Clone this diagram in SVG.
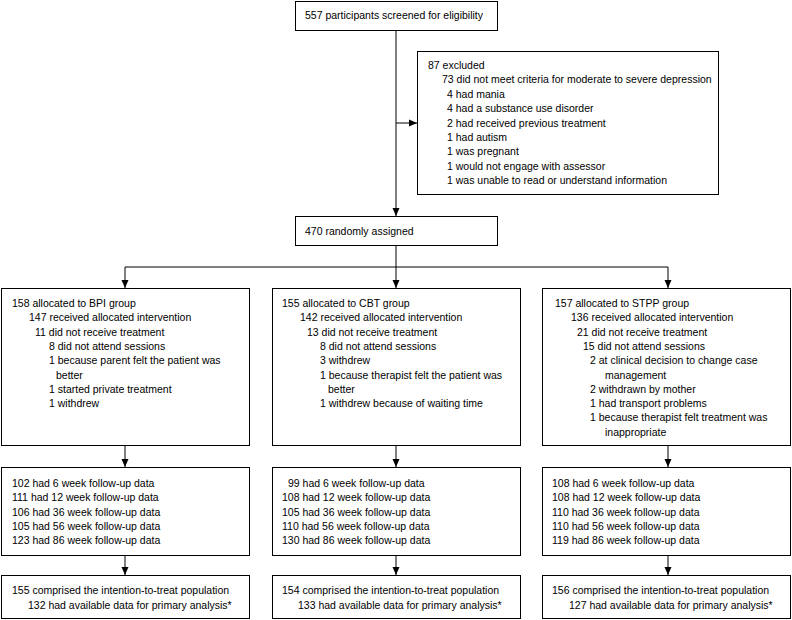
<svg xmlns="http://www.w3.org/2000/svg" width="792" height="620" viewBox="0 0 792 620">
<style>
  rect.box { fill: #fff; stroke: #000; stroke-width: 1; }
  text { font-family: "Liberation Sans", Arial, sans-serif; font-size: 10.5px; fill: #000; }
  .conn line, .conn path { stroke: #000; stroke-width: 1; fill: none; }
</style>
<defs>
  <marker id="arr" markerUnits="userSpaceOnUse" markerWidth="8" markerHeight="8" refX="8" refY="4" orient="auto">
    <path d="M0,0.5 L8,4 L0,7.5 Z" fill="#000"/>
  </marker>
</defs>
<rect width="792" height="620" fill="#fff"/>

<g class="conn" id="connectors">
  <line x1="396" y1="31" x2="396" y2="216" marker-end="url(#arr)"/>
  <line x1="396" y1="123" x2="417" y2="123" marker-end="url(#arr)"/>
  <line x1="396" y1="246" x2="396" y2="267"/>
  <line x1="125" y1="267" x2="668" y2="267"/>
  <line x1="125" y1="267" x2="125" y2="288" marker-end="url(#arr)"/>
  <line x1="396" y1="267" x2="396" y2="288" marker-end="url(#arr)"/>
  <line x1="668" y1="267" x2="668" y2="288" marker-end="url(#arr)"/>
  <line x1="125" y1="446" x2="125" y2="467" marker-end="url(#arr)"/>
  <line x1="396" y1="446" x2="396" y2="467" marker-end="url(#arr)"/>
  <line x1="668" y1="446" x2="668" y2="467" marker-end="url(#arr)"/>
  <line x1="125" y1="556" x2="125" y2="575" marker-end="url(#arr)"/>
  <line x1="396" y1="556" x2="396" y2="575" marker-end="url(#arr)"/>
  <line x1="668" y1="556" x2="668" y2="575" marker-end="url(#arr)"/>
</g>

<g id="screened">
  <rect class="box" x="295.5" y="1.5" width="202" height="29"/>
  <text x="305" y="19">557 participants screened for eligibility</text>
</g>

<g id="excluded">
  <rect class="box" x="417.5" y="51.5" width="301" height="143"/>
  <text x="428" y="69">87 excluded</text>
  <text x="442" y="83.4">73 did not meet criteria for moderate to severe depression</text>
  <text x="447" y="97.8">4 had mania</text>
  <text x="447" y="112.2">4 had a substance use disorder</text>
  <text x="447" y="126.6">2 had received previous treatment</text>
  <text x="447" y="141">1 had autism</text>
  <text x="447" y="155.4">1 was pregnant</text>
  <text x="447" y="169.8">1 would not engage with assessor</text>
  <text x="447" y="184.2">1 was unable to read or understand information</text>
</g>

<g id="randomised">
  <rect class="box" x="295.5" y="216.5" width="202" height="29"/>
  <text x="305" y="235">470 randomly assigned</text>
</g>

<g id="bpi-alloc">
  <rect class="box" x="1.5" y="288.5" width="248" height="157"/>
  <text x="12" y="307">158 allocated to BPI group</text>
  <text x="29" y="321.3">147 received allocated intervention</text>
  <text x="35" y="335.6">11 did not receive treatment</text>
  <text x="49" y="349.9">8 did not attend sessions</text>
  <text x="49" y="364.2">1 because parent felt the patient was</text>
  <text x="56" y="378.5">better</text>
  <text x="49" y="392.8">1 started private treatment</text>
  <text x="49" y="407.1">1 withdrew</text>
</g>

<g id="cbt-alloc">
  <rect class="box" x="272.5" y="288.5" width="248" height="157"/>
  <text x="282" y="307">155 allocated to CBT group</text>
  <text x="300" y="321.3">142 received allocated intervention</text>
  <text x="307" y="335.6">13 did not receive treatment</text>
  <text x="320" y="349.9">8 did not attend sessions</text>
  <text x="320" y="364.2">3 withdrew</text>
  <text x="320" y="378.5">1 because therapist felt the patient was</text>
  <text x="328" y="392.8">better</text>
  <text x="320" y="407.1">1 withdrew because of waiting time</text>
</g>

<g id="stpp-alloc">
  <rect class="box" x="542.5" y="288.5" width="248" height="157"/>
  <text x="555" y="307">157 allocated to STPP group</text>
  <text x="571" y="321.3">136 received allocated intervention</text>
  <text x="577" y="335.6">21 did not receive treatment</text>
  <text x="583" y="349.9">15 did not attend sessions</text>
  <text x="590" y="364.2">2 at clinical decision to change case</text>
  <text x="605" y="378.5">management</text>
  <text x="590" y="392.8">2 withdrawn by mother</text>
  <text x="590" y="407.1">1 had transport problems</text>
  <text x="590" y="421.4">1 because therapist felt treatment was</text>
  <text x="605" y="435.7">inappropriate</text>
</g>

<g id="bpi-followup">
  <rect class="box" x="1.5" y="467.5" width="248" height="88"/>
  <text x="12" y="487">102 had 6 week follow-up data</text>
  <text x="12" y="501.3">111 had 12 week follow-up data</text>
  <text x="12" y="515.6">106 had 36 week follow-up data</text>
  <text x="12" y="529.9">105 had 56 week follow-up data</text>
  <text x="12" y="544.2">123 had 86 week follow-up data</text>
</g>

<g id="cbt-followup">
  <rect class="box" x="272.5" y="467.5" width="248" height="88"/>
  <text x="288" y="487">99 had 6 week follow-up data</text>
  <text x="282" y="501.3">108 had 12 week follow-up data</text>
  <text x="282" y="515.6">105 had 36 week follow-up data</text>
  <text x="282" y="529.9">110 had 56 week follow-up data</text>
  <text x="282" y="544.2">130 had 86 week follow-up data</text>
</g>

<g id="stpp-followup">
  <rect class="box" x="542.5" y="467.5" width="248" height="88"/>
  <text x="552" y="487">108 had 6 week follow-up data</text>
  <text x="552" y="501.3">108 had 12 week follow-up data</text>
  <text x="552" y="515.6">110 had 36 week follow-up data</text>
  <text x="552" y="529.9">110 had 56 week follow-up data</text>
  <text x="552" y="544.2">119 had 86 week follow-up data</text>
</g>

<g id="bpi-itt">
  <rect class="box" x="1.5" y="575.5" width="248" height="43"/>
  <text x="12" y="594">155 comprised the intention-to-treat population</text>
  <text x="28" y="608.5">132 had available data for primary analysis*</text>
</g>

<g id="cbt-itt">
  <rect class="box" x="272.5" y="575.5" width="248" height="43"/>
  <text x="282" y="594">154 comprised the intention-to-treat population</text>
  <text x="298" y="608.5">133 had available data for primary analysis*</text>
</g>

<g id="stpp-itt">
  <rect class="box" x="542.5" y="575.5" width="248" height="43"/>
  <text x="552" y="594">156 comprised the intention-to-treat population</text>
  <text x="569" y="608.5">127 had available data for primary analysis*</text>
</g>
</svg>
